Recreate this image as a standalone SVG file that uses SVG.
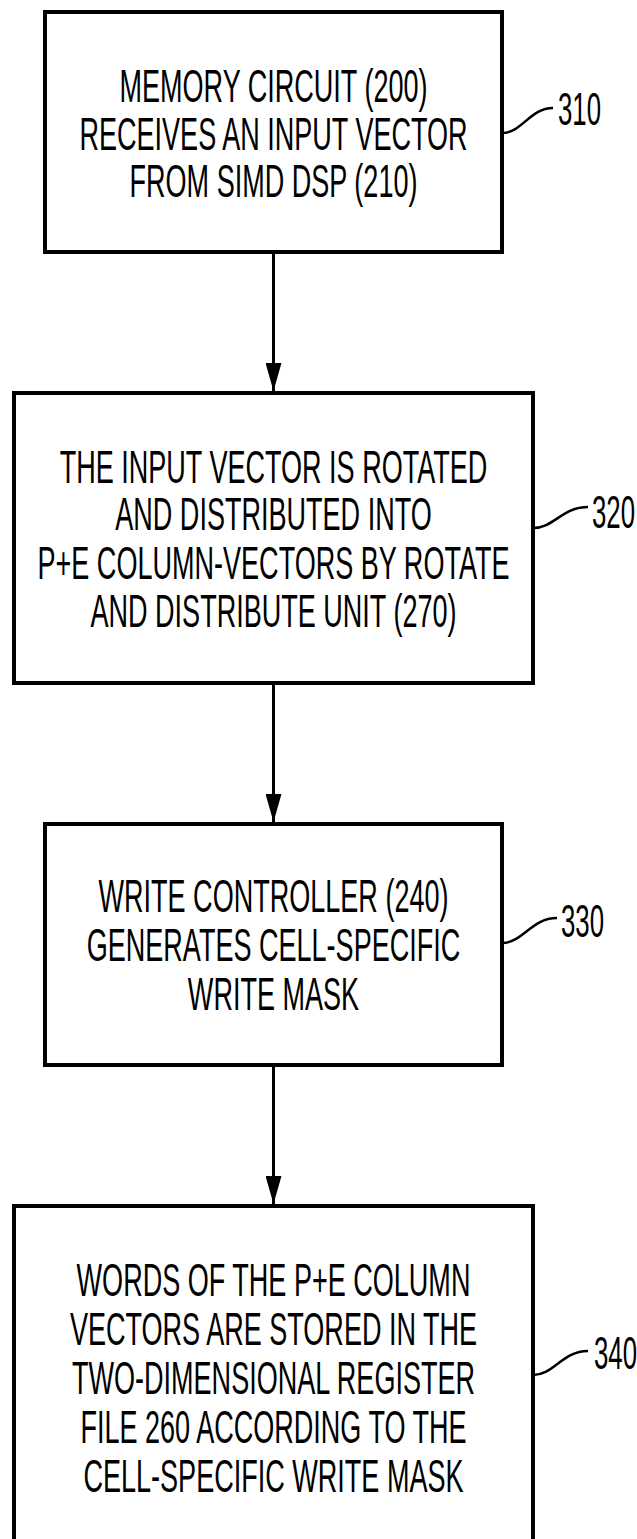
<svg xmlns="http://www.w3.org/2000/svg" width="637" height="1539" viewBox="0 0 637 1539">
<style>
.box{fill:#fff;stroke:#000;stroke-width:4}
.t{font-family:"Liberation Sans",Arial,sans-serif;font-size:46px;fill:#000;text-anchor:middle}
.lbl{font-family:"Liberation Sans",Arial,sans-serif;font-size:46px;fill:#000}
.conn{stroke:#000;stroke-width:3;fill:none}
.lead{stroke:#000;stroke-width:2.5;fill:none}
</style>
<defs>
<marker id="ah" viewBox="0 0 28 16" refX="28" refY="8" markerWidth="28" markerHeight="16" markerUnits="userSpaceOnUse" orient="auto">
<path d="M0,0 L28,8 L0,16 z" fill="#000"/>
</marker>
</defs>
<rect width="637" height="1539" fill="#fff"/>
<g id="connectors">
<line class="conn" x1="273.5" y1="252" x2="273.5" y2="391" marker-end="url(#ah)"/>
<line class="conn" x1="273.5" y1="683" x2="273.5" y2="822" marker-end="url(#ah)"/>
<line class="conn" x1="273.5" y1="1065" x2="273.5" y2="1204" marker-end="url(#ah)"/>
</g>
<g id="n310">
<rect class="box" x="45" y="12" width="457" height="240"/>
<g transform="translate(273.5,0) scale(0.588,1)">
<text class="t" x="0" y="102">MEMORY CIRCUIT (200)</text>
<text class="t" x="0" y="150">RECEIVES AN INPUT VECTOR</text>
<text class="t" x="0" y="197">FROM SIMD DSP (210)</text>
</g>
<path class="lead" d="M502,133 C522,133 530,108 553,108"/>
<text class="lbl" transform="translate(558,125) scale(0.56,1)">310</text>
</g>
<g id="n320">
<rect class="box" x="14" y="393" width="519" height="290"/>
<g transform="translate(273.5,0) scale(0.588,1)">
<text class="t" x="0" y="483">THE INPUT VECTOR IS ROTATED</text>
<text class="t" x="0" y="530">AND DISTRIBUTED INTO</text>
<text class="t" x="0" y="579">P+E COLUMN-VECTORS BY ROTATE</text>
<text class="t" x="0" y="627">AND DISTRIBUTE UNIT (270)</text>
</g>
<path class="lead" d="M533,528 C554,528 562,507 588,507"/>
<text class="lbl" transform="translate(592,528) scale(0.56,1)">320</text>
</g>
<g id="n330">
<rect class="box" x="45" y="824" width="457" height="241"/>
<g transform="translate(273.5,0) scale(0.588,1)">
<text class="t" x="0" y="912">WRITE CONTROLLER (240)</text>
<text class="t" x="0" y="961">GENERATES CELL-SPECIFIC</text>
<text class="t" x="0" y="1010">WRITE MASK</text>
</g>
<path class="lead" d="M502,943 C523,943 531,918 557,918"/>
<text class="lbl" transform="translate(561,937) scale(0.56,1)">330</text>
</g>
<g id="n340">
<rect class="box" x="14" y="1206" width="519" height="343"/>
<g transform="translate(273.5,0) scale(0.588,1)">
<text class="t" x="0" y="1296">WORDS OF THE P+E COLUMN</text>
<text class="t" x="0" y="1345">VECTORS ARE STORED IN THE</text>
<text class="t" x="0" y="1394">TWO-DIMENSIONAL REGISTER</text>
<text class="t" x="0" y="1443">FILE 260 ACCORDING TO THE</text>
<text class="t" x="0" y="1492">CELL-SPECIFIC WRITE MASK</text>
</g>
<path class="lead" d="M533,1375 C554,1375 562,1351 588,1351"/>
<text class="lbl" transform="translate(594,1369) scale(0.56,1)">340</text>
</g>
</svg>
